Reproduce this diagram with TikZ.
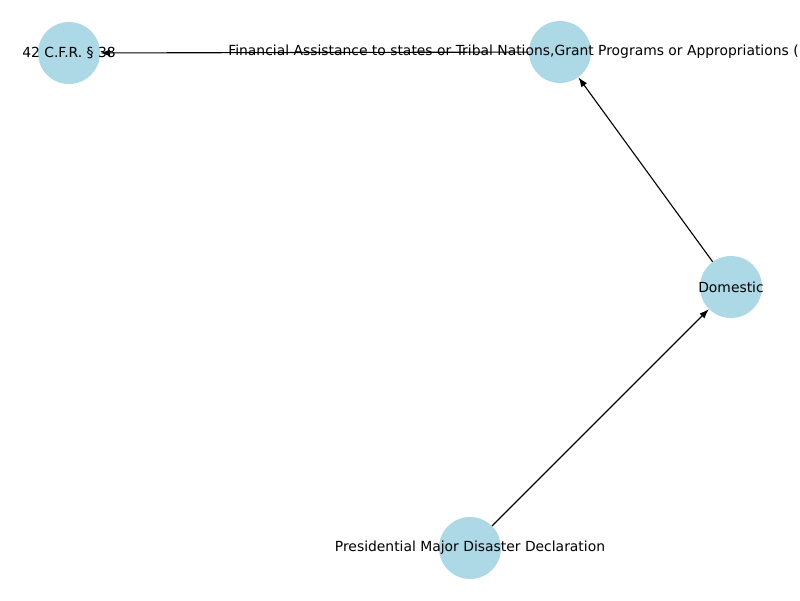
\documentclass[tikz,border=0pt]{standalone}
\usepackage{fontspec}
\setmainfont{DejaVu Sans}
\usetikzlibrary{arrows.meta}
\definecolor{nodeblue}{HTML}{ADD8E6}
\tikzset{
  dot/.style={circle, fill=nodeblue, draw=none, minimum size=44.64pt, inner sep=0pt},
  lbl/.style={font=\fontsize{10pt}{12pt}\selectfont, inner sep=0pt, text=black},
  edge/.style={draw=black, line width=0.8pt, -{Latex[length=7pt,width=5pt]}}
}
\begin{document}
\begin{tikzpicture}[x=0.72pt,y=-0.72pt]
\useasboundingbox (0,0) rectangle (800,600);
\fill[white] (0,0) rectangle (800,600);
\node[dot] (cfr) at (69,53) {};
\node[dot] (fin) at (560,52) {};
\node[dot] (dom) at (731,287) {};
\node[dot] (pres) at (470,548) {};
\draw[edge] (pres) -- (dom);
\draw[edge] (dom) -- (fin);
\draw[edge] (fin) -- (cfr);
\node[lbl] (cfrl) at (cfr) {42 C.F.R. § 38};
\node[lbl, anchor=west] (finl) at ([xshift=-332*0.72pt]fin.center) {Financial Assistance to states or Tribal Nations,Grant Programs or Appropriations (};
\node[lbl] (doml) at (dom) {Domestic};
\node[lbl] (presl) at (pres) {Presidential Major Disaster Declaration};
\end{tikzpicture}
\end{document}
